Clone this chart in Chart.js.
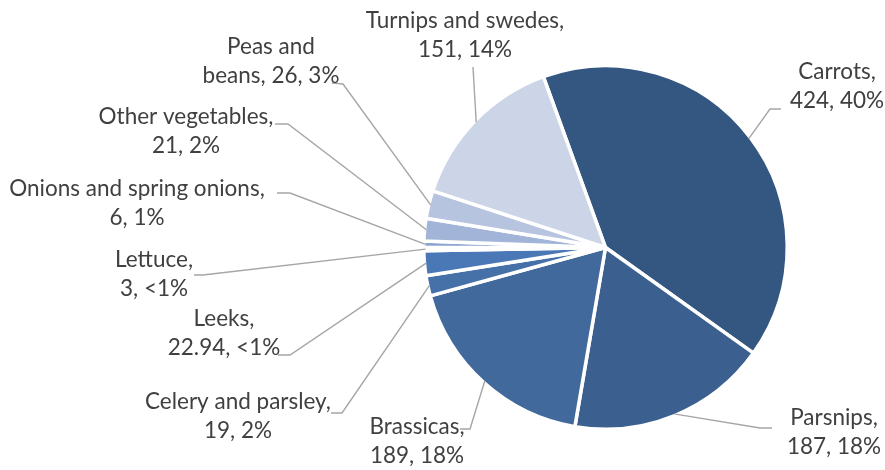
<!DOCTYPE html>
<html lang="en">
<head>
    <meta charset="UTF-8">
    <title>Vegetables grown</title>
    <style>
        body {
            margin: 0;
            padding: 0;
            background: #fff;
        }
        .chart-box {
            width: 885px;
            height: 470px;
        }
    </style>
</head>
<body>
    <div class="chart-box">
        <canvas id="vegChart" width="885" height="470"></canvas>
    </div>

    <script src="https://cdn.jsdelivr.net/npm/chart.js"></script>
    <script>
        // slice data, clockwise from the Carrots slice
        const categories = ['Carrots', 'Parsnips', 'Brassicas', 'Celery and parsley', 'Leeks',
            'Lettuce', 'Onions and spring onions', 'Other vegetables', 'Peas and beans', 'Turnips and swedes'];
        const values = [424, 187, 189, 19, 22.94, 3, 6, 21, 26, 151];
        const percentLabels = ['40%', '18%', '18%', '2%', '<1%', '<1%', '1%', '2%', '3%', '14%'];

        const sliceColors = ['#335781', '#3b5f8e', '#41699b', '#4570a8', '#4a78b6',
            '#6b8fc6', '#8ba4d1', '#a2b4d7', '#b7c4e0', '#cbd5e7'];

        const BORDER = 3.5;
        const LINE_GAP = 29;

        // where each label sits: centre x, first line y, the leader stub points (label side first),
        // and an optional first-line text when the label wraps mid-name
        const labelLayout = [
            { x: 837, y: 72, stub: [[781, 109], [770, 109]] },
            { x: 834, y: 418, stub: [[772, 428], [760, 428]] },
            { x: 417, y: 427, stub: [[460, 429], [470, 429]] },
            { x: 238, y: 402, stub: [[331, 413], [342, 413]] },
            { x: 224, y: 319, stub: [[278, 355], [290, 355]] },
            { x: 154, y: 260, stub: [[194, 275], [203, 275]] },
            { x: 137, y: 189, stub: [[277, 193], [290, 193]] },
            { x: 186, y: 117, stub: [[275, 124], [288, 124]] },
            { x: 271, y: 47, stub: [[332, 83], [343, 84]], firstLine: 'Peas and' },
            { x: 465, y: 21, stub: [[473, 67]] }
        ];

        function labelLines(i) {
            const full = categories[i] + ', ' + values[i] + ', ' + percentLabels[i];
            const first = labelLayout[i].firstLine;
            if (first) {
                return [first, full.slice(first.length).trim()];
            }
            return [categories[i] + ',', values[i] + ', ' + percentLabels[i]];
        }

        // leader lines + two-line labels outside the pie
        const outsideLabels = {
            id: 'outsideLabels',
            afterDatasetsDraw(chart) {
                const ctx = chart.ctx;
                const meta = chart.getDatasetMeta(0);
                ctx.save();
                meta.data.forEach((arc, i) => {
                    const p = arc.getProps(['x', 'y', 'startAngle', 'endAngle', 'outerRadius'], true);
                    const mid = (p.startAngle + p.endAngle) / 2;
                    const r = p.outerRadius - BORDER / 2;
                    const ex = p.x + Math.cos(mid) * r;
                    const ey = p.y + Math.sin(mid) * r;
                    const lay = labelLayout[i];

                    ctx.strokeStyle = '#a6a6a6';
                    ctx.lineWidth = 1.4;
                    ctx.beginPath();
                    ctx.moveTo(lay.stub[0][0], lay.stub[0][1]);
                    for (let k = 1; k < lay.stub.length; k++) {
                        ctx.lineTo(lay.stub[k][0], lay.stub[k][1]);
                    }
                    ctx.lineTo(ex, ey);
                    ctx.stroke();

                    ctx.fillStyle = '#404040';
                    ctx.font = '22.5px Lato';
                    ctx.textAlign = 'center';
                    ctx.textBaseline = 'middle';
                    labelLines(i).forEach((line, k) => {
                        ctx.fillText(line, lay.x, lay.y + k * LINE_GAP);
                    });
                });
                ctx.restore();
            }
        };

        new Chart(document.getElementById('vegChart'), {
            type: 'pie',
            data: {
                labels: categories,
                datasets: [{
                    data: values,
                    backgroundColor: sliceColors,
                    borderColor: '#ffffff',
                    borderWidth: BORDER
                }]
            },
            options: {
                responsive: false,
                animation: false,
                rotation: -20,
                layout: {
                    padding: { left: 422, right: 96, top: 64, bottom: 39 }
                },
                plugins: {
                    legend: { display: false },
                    tooltip: { enabled: false }
                }
            },
            plugins: [outsideLabels]
        });
    </script>
</body>
</html>
